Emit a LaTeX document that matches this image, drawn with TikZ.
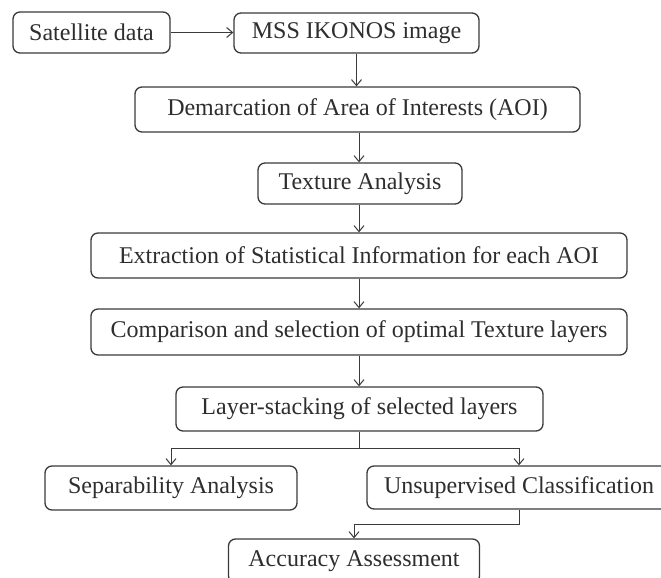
\documentclass[tikz,border=0pt]{standalone}
\usepackage{fontspec}
\setmainfont{Liberation Serif}
\usepackage{xcolor}
\usepackage{tikz}
\usetikzlibrary{arrows.meta,positioning}
\definecolor{linegray}{HTML}{3A3A3A}
\definecolor{textgray}{HTML}{2E2E2E}
\tikzstyle{block} = [draw=linegray,line width=1.3pt,rounded corners=7pt,fill=white,text=textgray,
  inner sep=0pt,font=\fontsize{24}{28}\selectfont]
\tikzstyle{arrow} = [draw=linegray,line width=1pt,->,>={Straight Barb[length=6pt,width=10pt]}]

\begin{document}
\begin{tikzpicture}[x=1pt,y=-1pt]
            % page frame
            \useasboundingbox (0,0) rectangle (661,578);
            \clip (0,0) rectangle (661,578);
            % steps
            \node[block,minimum width=157,minimum height=41] (sat) at (91.5,32.5) {Satellite data};
            \node[block,minimum width=245,minimum height=40] (mss) at (356.5,33) {MSS IKONOS image};
            \node[block,minimum width=445,minimum height=45] (aoi) at (357.5,109.5) {Demarcation of Area of Interests (AOI)};
            \node[block,minimum width=204,minimum height=41] (tex) at (360,183.5) {Texture Analysis};
            \node[block,minimum width=536,minimum height=45] (ext) at (359,255.5) {Extraction of Statistical Information for each AOI};
            \node[block,minimum width=536,minimum height=46] (cmp) at (359,332) {Comparison and selection of optimal Texture layers};
            \node[block,minimum width=367,minimum height=44] (stk) at (359.5,409) {Layer-stacking of selected layers};
            \node[block,minimum width=252,minimum height=44] (sep) at (171,488) {Separability Analysis};
            \node[block,minimum width=304,minimum height=43] (uns) at (519,487.5) {Unsupervised Classification};
            \node[block,minimum width=251,minimum height=44] (acc) at (354,561) {Accuracy Assessment};
            % links
            \coordinate (split) at (359,448);
            \draw[arrow] (sat.east) -- (mss.west |- sat.east);
            \draw[arrow] (mss.south) -- (mss.south |- aoi.north);
            \draw[arrow] (aoi.south -| split) -- (tex.north -| split);
            \draw[arrow] (tex.south -| split) -- (ext.north -| split);
            \draw[arrow] (ext.south) -- (cmp.north);
            \draw[arrow] (cmp.south) -- (cmp.south |- stk.north);
            \draw[line width=1pt,draw=linegray] (stk.south -| split) -- (split);
            \draw[arrow] (split) -| (sep.north);
            \draw[arrow] (split) -| (uns.north);
            \draw[arrow] (uns.south) -- ++(0,15) -| (acc.north);
\end{tikzpicture}
\end{document}
